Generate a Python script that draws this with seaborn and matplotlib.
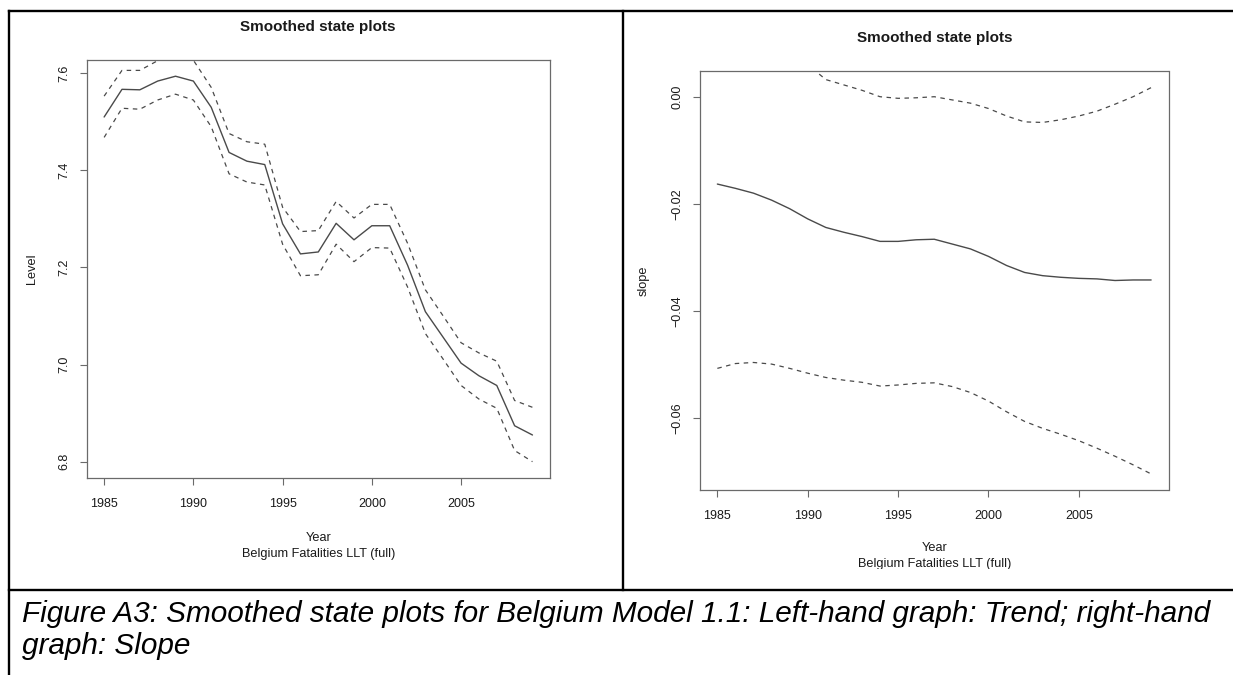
import matplotlib
matplotlib.use("Agg")
import matplotlib.pyplot as plt
import seaborn as sns
import pandas as pd
from matplotlib.lines import Line2D
from matplotlib.patches import Rectangle

# ---------------- data ----------------
years = list(range(1985, 2010))

level = [7.510, 7.567, 7.566, 7.584, 7.594, 7.584, 7.530, 7.437, 7.419, 7.412,
         7.290, 7.228, 7.232, 7.291, 7.257, 7.286, 7.286, 7.205, 7.109, 7.056,
         7.003, 6.977, 6.957, 6.874, 6.855]
level_upper = [7.553, 7.606, 7.606, 7.626, 7.637, 7.627, 7.571, 7.476, 7.459, 7.454,
               7.324, 7.274, 7.276, 7.336, 7.302, 7.330, 7.330, 7.250, 7.154, 7.100,
               7.045, 7.024, 7.007, 6.926, 6.912]
level_lower = [7.468, 7.528, 7.526, 7.545, 7.557, 7.545, 7.490, 7.393, 7.376, 7.370,
               7.248, 7.183, 7.185, 7.248, 7.212, 7.241, 7.240, 7.160, 7.064, 7.011,
               6.957, 6.929, 6.910, 6.823, 6.800]

slope = [-0.0163, -0.0171, -0.0180, -0.0193, -0.0209, -0.0228, -0.0244, -0.0253,
         -0.0261, -0.0270, -0.0270, -0.0267, -0.0266, -0.0275, -0.0284, -0.0298,
         -0.0315, -0.0328, -0.0334, -0.0337, -0.0339, -0.0340, -0.0343, -0.0342,
         -0.0342]
slope_upper = [0.0180, 0.0156, 0.0136, 0.0113, 0.0089, 0.0060, 0.0032, 0.0022,
               0.0012, 0.0000, -0.0003, -0.0002, 0.0000, -0.0006, -0.0012, -0.0022,
               -0.0036, -0.0047, -0.0048, -0.0043, -0.0036, -0.0027, -0.0014, 0.0000,
               0.0017]
slope_lower = [-0.0507, -0.0498, -0.0496, -0.0499, -0.0507, -0.0516, -0.0524, -0.0529,
               -0.0533, -0.0540, -0.0538, -0.0535, -0.0534, -0.0541, -0.0552, -0.0568,
               -0.0588, -0.0606, -0.0619, -0.0630, -0.0642, -0.0656, -0.0671, -0.0687,
               -0.0704]

x_ticks = [1985, 1990, 1995, 2000, 2005]
x_tick_labels = ["1985", "1990", "1995", "2000", "2005"]
level_ticks = [6.8, 7.0, 7.2, 7.4, 7.6]
level_tick_labels = ["6.8", "7.0", "7.2", "7.4", "7.6"]
slope_ticks = [-0.06, -0.04, -0.02, 0.00]
slope_tick_labels = ["\u22120.06", "\u22120.04", "\u22120.02", "0.00"]

plot_title = "Smoothed state plots"
x_label = "Year"
sub_label = "Belgium Fatalities LLT (full)"
caption_1 = "Figure A3: Smoothed state plots for Belgium Model 1.1: Left-hand graph: Trend; right-hand"
caption_2 = "graph: Slope"

# ---------------- style ----------------
sns.set_theme(style="white")
plt.rcParams["font.family"] = ["Liberation Sans", "DejaVu Sans"]
TXT = "#1a1a1a"
LINE = "#4a4a4a"
FRAME = "#6a6a6a"

W, H = 1233, 675
fig = plt.figure(figsize=(W / 100, H / 100), dpi=100)
fig.patch.set_facecolor("white")


def fx(px):
    return px / W


def fy(py):
    return 1 - py / H


def make_axes(left, right, top, bottom):
    return fig.add_axes([fx(left), fy(bottom), fx(right) - fx(left), fy(top) - fy(bottom)])


ax1 = make_axes(87, 549.6, 60, 478)
ax2 = make_axes(700, 1168.5, 71, 490)


def draw_panel(ax, mid, up, lo, ylim, yticks, ylabels, ylab, year_y, sub_y):
    df = pd.DataFrame({"year": years, "mid": mid, "up": up, "lo": lo})
    sns.lineplot(data=df, x="year", y="mid", ax=ax, color=LINE, lw=1.0)
    for col in ["up", "lo"]:
        sns.lineplot(data=df, x="year", y=col, ax=ax, color=LINE, lw=0.9)
        ax.lines[-1].set_dashes((3.6, 3.6))
    ax.set_xlim(1984.04, 2009.96)
    ax.set_ylim(*ylim)
    ax.set_xticks(x_ticks)
    ax.set_xticklabels(x_tick_labels)
    ax.set_yticks(yticks)
    ax.set_yticklabels(ylabels, rotation=90, va="center")
    ax.tick_params(axis="both", direction="out", length=5.0, width=0.8,
                   color=FRAME, labelsize=9, labelcolor=TXT,
                   bottom=True, left=True, top=False, right=False)
    ax.tick_params(axis="x", pad=9.6)
    ax.tick_params(axis="y", pad=6.8)
    for s in ax.spines.values():
        s.set_visible(True)
        s.set_color(FRAME)
        s.set_linewidth(0.9)
    ax.set_xlabel("")
    ax.set_ylabel("")
    ax.text(-0.1198, 0.5, ylab, transform=ax.transAxes, rotation=90,
            ha="center", va="center", fontsize=9.2, color=TXT)
    ax.text(0.5, year_y, x_label, transform=ax.transAxes, ha="center",
            va="center", fontsize=9.2, color=TXT, clip_on=False)
    ax.text(0.5, sub_y, sub_label, transform=ax.transAxes, ha="center",
            va="center", fontsize=9.2, color=TXT, clip_on=False)


draw_panel(ax1, level, level_upper, level_lower, (6.7664, 7.6274),
           level_ticks, level_tick_labels, "Level", -0.144, -0.1825)
draw_panel(ax2, slope, slope_upper, slope_lower, (-0.0734, 0.0048),
           slope_ticks, slope_tick_labels, "slope", -0.139, -0.1765)

# titles
fig.text(fx(318), fy(26.5), plot_title, ha="center", va="center",
         fontsize=11, fontweight="bold", color=TXT)
fig.text(fx(934.5), fy(38), plot_title, ha="center", va="center",
         fontsize=11, fontweight="bold", color=TXT)

# white strip that crops the bottom of the right-hand picture
fig.add_artist(Rectangle((fx(625), fy(589)), fx(1233) - fx(625), (589 - 568.5) / H,
                         transform=fig.transFigure, facecolor="white",
                         edgecolor="none", zorder=20))

# table borders
lw_border = 1.7
for (x0, y0, x1, y1) in [(8.8, 10.5, 1233, 10.5), (8.8, 10.5, 8.8, 675),
                         (623.3, 10.5, 623.3, 590.3), (8.8, 590.3, 1233, 590.3)]:
    fig.add_artist(Line2D([fx(x0), fx(x1)], [fy(y0), fy(y1)], transform=fig.transFigure,
                          color="black", lw=lw_border, zorder=30,
                          solid_capstyle="projecting"))

# caption, sized so the first line spans the measured width
cap_fs = 20.0
t1 = fig.text(fx(21.5), fy(622), caption_1, ha="left", va="baseline",
              fontsize=cap_fs, style="italic", color="black")
fig.canvas.draw()
w = t1.get_window_extent().width
cap_fs = cap_fs * (1186.0 / w)
t1.set_fontsize(cap_fs)
fig.text(fx(21.5), fy(654), caption_2, ha="left", va="baseline",
         fontsize=cap_fs, style="italic", color="black")

fig.savefig("out.png", dpi=100, facecolor="white")
